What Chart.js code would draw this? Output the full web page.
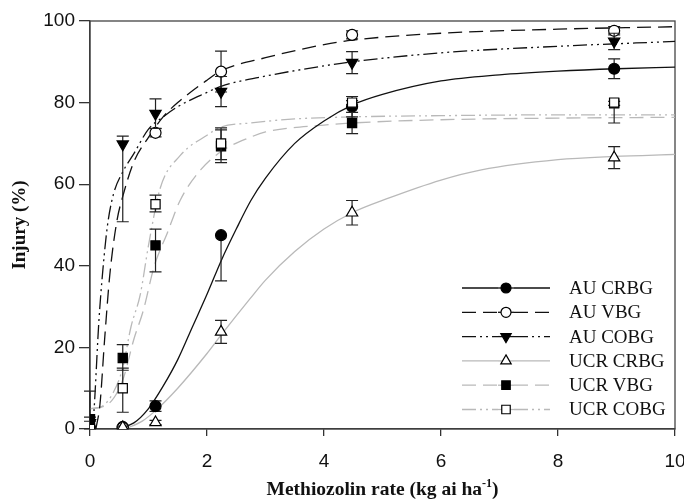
<!DOCTYPE html>
<html>
<head>
<meta charset="utf-8">
<script src="https://cdn.jsdelivr.net/npm/chart.js@4.4.1/dist/chart.umd.min.js"></script>
<style>
  body { margin: 0; background: #fff; }
  canvas { display: block; }
</style>
</head>
<body>
<canvas id="injuryChart" width="684" height="502"></canvas>
<script>
// --- Data ---
const rates = [0, 0.56, 1.12, 2.24, 4.48, 8.96];

// observed means and error bars (lower / upper)
const auCrbg = [0.3, 0.5, 5.6, 47.5, 79, 88.3];
const auCrbgLo = [0, 0.3, 1.3, 11.2, 2.5, 2.4];
const auCrbgHi = [0, 0.3, 1.3, 0, 2.5, 2.4];

const auVbg = [0, 0.3, 72.6, 87.6, 96.6, 97.6];
const auVbgLo = [0, 0.3, 1, 5, 1, 1];
const auVbgHi = [0, 0.3, 1, 5, 1, 1];

const auCobg = [1.5, 69.8, 77.3, 82.7, 89.8, 95];
const auCobgLo = [1.5, 19, 3.6, 3.7, 2.7, 2];
const auCobgHi = [7.8, 2, 3.6, 3.7, 2.7, 2];

const ucrCrbg = [0, 0.4, 1.6, 23.8, 53, 66.5];
const ucrCrbgLo = [0, 0.3, 0.5, 2.8, 3, 2.7];
const ucrCrbgHi = [0, 0.3, 0.5, 2.8, 3, 2.7];

const ucrVbg = [2.4, 17.4, 45, 69.3, 75, 79.8];
const ucrVbgLo = [0.5, 3, 6.5, 4, 2.6, 0.5];
const ucrVbgHi = [0.5, 3.3, 4, 4, 2.6, 0.5];

const ucrCobg = [0, 10, 55.1, 70, 80, 80];
const ucrCobgLo = [0, 5.9, 1.9, 4, 0.5, 5];
const ucrCobgHi = [0, 4.9, 2.2, 3.8, 0.5, 0];

// fitted curves
const auCrbgFitX = [0.5, 0.75, 1, 1.25, 1.5, 1.75, 2, 2.25, 2.5, 2.75, 3, 3.5, 4, 4.5, 5, 6, 7, 8, 9, 10];
const auCrbgFitY = [0.3, 1.5, 5, 10.5, 17, 25, 33, 41.5, 49, 56, 61.5, 70, 75.5, 79.5, 82, 85.3, 86.8, 87.7, 88.3, 88.7];

const auVbgFitX = [0.1, 0.17, 0.25, 0.34, 0.46, 0.56, 0.75, 1, 1.25, 1.5, 2, 2.24, 3, 4, 4.48, 6, 8, 10];
const auVbgFitY = [0, 6, 22, 38, 51, 57, 65.5, 71.5, 76.5, 80, 85.5, 87.8, 91, 94.2, 95.3, 97, 98, 98.6];

const auCobgFitX = [0.05, 0.086, 0.15, 0.22, 0.3, 0.4, 0.56, 0.75, 1, 1.25, 1.5, 2, 2.24, 3, 4, 4.48, 6, 8, 10];
const auCobgFitY = [0, 8.7, 26, 39, 50, 57.5, 63, 67.5, 73.5, 76.5, 79, 82.5, 84, 86.5, 89, 90, 92.2, 93.8, 95];

const ucrCrbgFitX = [0.6, 0.9, 1.12, 1.5, 2, 2.24, 2.74, 3, 3.5, 4, 4.48, 5.09, 6, 6.69, 8, 8.96, 10];
const ucrCrbgFitY = [0, 2, 4.5, 10, 18.5, 23, 32, 36.5, 43.5, 49, 53, 56.5, 61, 63.5, 66, 66.8, 67.3];

const ucrVbgFitX = [0, 0.3, 0.56, 0.75, 0.91, 1.1, 1.32, 1.54, 1.89, 2.24, 2.74, 3, 4, 4.48, 6, 8, 10];
const ucrVbgFitY = [5, 6, 12, 22, 29, 40, 48, 56, 63.5, 68, 71.5, 72.8, 74.5, 75, 75.8, 76.2, 76.4];

const ucrCobgFitX = [0, 0.2, 0.4, 0.56, 0.7, 0.86, 1, 1.2, 1.54, 2, 2.24, 2.74, 3.5, 4.48, 6, 8, 10];
const ucrCobgFitY = [5, 5.5, 9, 15, 25, 33, 45, 59, 67, 72, 74, 75, 76, 76.5, 76.8, 77, 77];

const seriesNames = ["AU CRBG", "AU VBG", "AU COBG", "UCR CRBG", "UCR VBG", "UCR COBG"];

// --- Styles ---
const BLACK = "#111";
const GRAY = "#b9b9b9";
const DASH = [14, 7];
const DASH_DOT = [14, 4, 2, 4, 2, 4];

const styles = [
  { line: BLACK, dash: [], point: "circle", fill: "#000", radius: 5.5, rot: 0 },
  { line: BLACK, dash: DASH, point: "circle", fill: "#fff", radius: 5.5, rot: 0 },
  { line: BLACK, dash: DASH_DOT, point: "triangle", fill: "#000", radius: 6.5, rot: 180 },
  { line: GRAY, dash: [], point: "triangle", fill: "#fff", radius: 6.5, rot: 0 },
  { line: GRAY, dash: DASH, point: "rect", fill: "#000", radius: 6.5, rot: 0 },
  { line: GRAY, dash: DASH_DOT, point: "rect", fill: "#fff", radius: 6.5, rot: 0 }
];

const means = [auCrbg, auVbg, auCobg, ucrCrbg, ucrVbg, ucrCobg];
const lows = [auCrbgLo, auVbgLo, auCobgLo, ucrCrbgLo, ucrVbgLo, ucrCobgLo];
const highs = [auCrbgHi, auVbgHi, auCobgHi, ucrCrbgHi, ucrVbgHi, ucrCobgHi];
const fitXs = [auCrbgFitX, auVbgFitX, auCobgFitX, ucrCrbgFitX, ucrVbgFitX, ucrCobgFitX];
const fitYs = [auCrbgFitY, auVbgFitY, auCobgFitY, ucrCrbgFitY, ucrVbgFitY, ucrCobgFitY];

// --- Build datasets ---
const datasets = [];
seriesNames.forEach((name, i) => {
  const st = styles[i];
  datasets.push({
    label: name + " fit",
    data: fitXs[i].map((x, j) => ({ x: x, y: fitYs[i][j] })),
    showLine: true,
    borderColor: st.line,
    borderWidth: 1.3,
    borderDash: st.dash,
    pointRadius: 0,
    cubicInterpolationMode: "monotone",
    order: 20 + i
  });
});
seriesNames.forEach((name, i) => {
  const st = styles[i];
  datasets.push({
    label: name,
    data: rates.map((x, j) => ({ x: x, y: means[i][j] })),
    showLine: false,
    pointStyle: st.point,
    pointRotation: st.rot,
    pointRadius: st.radius,
    pointBackgroundColor: st.fill,
    pointBorderColor: "#000",
    pointBorderWidth: 1.2,
    errLo: lows[i],
    errHi: highs[i],
    order: 6 - i
  });
});

// --- Plugins ---
const errorBars = {
  id: "errorBars",
  beforeDatasetDraw(chart, args) {
    const ds = chart.data.datasets[args.index];
    if (!ds.errLo) return;
    const ctx = chart.ctx;
    const xs = chart.scales.x;
    const ys = chart.scales.y;
    const cap = 6;
    ctx.save();
    ctx.strokeStyle = "#222";
    ctx.lineWidth = 1.2;
    ds.data.forEach((p, i) => {
      const lo = ds.errLo[i];
      const hi = ds.errHi[i];
      if (!lo && !hi) return;
      const px = xs.getPixelForValue(p.x);
      const yTop = ys.getPixelForValue(p.y + hi);
      const yBot = ys.getPixelForValue(Math.max(0, p.y - lo));
      ctx.beginPath();
      ctx.moveTo(px, yTop);
      ctx.lineTo(px, yBot);
      if (hi > 0) {
        ctx.moveTo(px - cap, yTop);
        ctx.lineTo(px + cap, yTop);
      }
      if (lo > 0) {
        ctx.moveTo(px - cap, yBot);
        ctx.lineTo(px + cap, yBot);
      }
      ctx.stroke();
    });
    ctx.restore();
  }
};

const frameAndTitle = {
  id: "frameAndTitle",
  beforeDatasetsDraw(chart) {
    const { ctx, chartArea: a } = chart;
    ctx.save();
    ctx.strokeStyle = "#444";
    ctx.lineWidth = 1.3;
    ctx.strokeRect(a.left, a.top, a.right - a.left, a.bottom - a.top);
    ctx.restore();
  },
  afterDraw(chart) {
    const { ctx, chartArea: a } = chart;
    ctx.save();
    ctx.fillStyle = "#111";
    ctx.textBaseline = "alphabetic";
    // x axis title with superscript
    const main = "Methiozolin rate (kg ai ha";
    const sup = "-1";
    const tail = ")";
    ctx.font = 'bold 19.5px "Liberation Serif"';
    const wMain = ctx.measureText(main).width;
    const wTail = ctx.measureText(tail).width;
    ctx.font = 'bold 12px "Liberation Serif"';
    const wSup = ctx.measureText(sup).width;
    const total = wMain + wSup + wTail;
    let x = (a.left + a.right) / 2 - total / 2;
    const base = 495;
    ctx.font = 'bold 19.5px "Liberation Serif"';
    ctx.fillText(main, x, base);
    x += wMain;
    ctx.font = 'bold 12px "Liberation Serif"';
    ctx.fillText(sup, x, base - 8);
    x += wSup;
    ctx.font = 'bold 19.5px "Liberation Serif"';
    ctx.fillText(tail, x, base);

    // legend
    const lx0 = a.right - 213;
    const lx1 = a.right - 125;
    const mx = (lx0 + lx1) / 2;
    const tx = a.right - 106;
    const rowH = 24.3;
    const y0 = a.bottom - 141;
    seriesNames.forEach((name, i) => {
      const st = styles[i];
      const y = y0 + i * rowH;
      ctx.strokeStyle = st.line;
      ctx.lineWidth = 1.3;
      ctx.setLineDash(st.dash);
      ctx.beginPath();
      ctx.moveTo(lx0, y);
      ctx.lineTo(mx - 8, y);
      ctx.moveTo(mx + 8, y);
      ctx.lineTo(lx1, y);
      ctx.stroke();
      ctx.setLineDash([]);
      ctx.beginPath();
      ctx.moveTo(mx - 8, y);
      ctx.lineTo(mx + 8, y);
      ctx.stroke();
      ctx.fillStyle = st.fill;
      ctx.strokeStyle = "#000";
      ctx.lineWidth = 1.2;
      Chart.helpers.drawPoint(ctx, {
        pointStyle: st.point,
        rotation: st.rot,
        radius: st.radius - 0.5,
        borderWidth: 1.2
      }, mx, y);
      ctx.fillStyle = "#111";
      ctx.font = '19px "Liberation Serif"';
      ctx.textBaseline = "middle";
      ctx.fillText(name, tx, y + 1);
    });
    ctx.restore();
  }
};

// --- Chart ---
function initChart() {
  const ctx = document.getElementById("injuryChart");
  new Chart(ctx, {
    type: "scatter",
    data: { datasets: datasets },
    options: {
      animation: false,
      responsive: false,
      layout: { autoPadding: false, padding: { top: 21, right: 9, left: 0, bottom: 0 } },
      plugins: {
        legend: { display: false },
        tooltip: { enabled: false }
      },
      scales: {
        x: {
          type: "linear",
          min: 0,
          max: 10,
          ticks: {
            stepSize: 2,
            color: "#111",
            padding: 14,
            font: { family: "Liberation Sans", size: 19 }
          },
          grid: { drawOnChartArea: false, tickLength: 7, color: "#333", lineWidth: 1.3 },
          border: { color: "#333", width: 1.3 },
          afterFit: (s) => {
            s.height = 73;
            s.paddingLeft = 0;
            s.paddingRight = 0;
          }
        },
        y: {
          min: 0,
          max: 100,
          ticks: {
            stepSize: 20,
            color: "#111",
            padding: 4,
            font: { family: "Liberation Sans", size: 19 }
          },
          title: {
            display: true,
            text: "Injury (%)",
            color: "#111",
            padding: { top: 9, bottom: 0 },
            font: { family: "Liberation Serif", size: 19, weight: "bold" }
          },
          grid: { drawOnChartArea: false, tickLength: 11, color: "#333", lineWidth: 1.3 },
          border: { color: "#333", width: 1.3 },
          afterFit: (s) => {
            s.width = 90;
            s.paddingTop = 0;
            s.paddingBottom = 0;
          }
        }
      }
    },
    plugins: [errorBars, frameAndTitle]
  });
}

initChart();
</script>
</body>
</html>
